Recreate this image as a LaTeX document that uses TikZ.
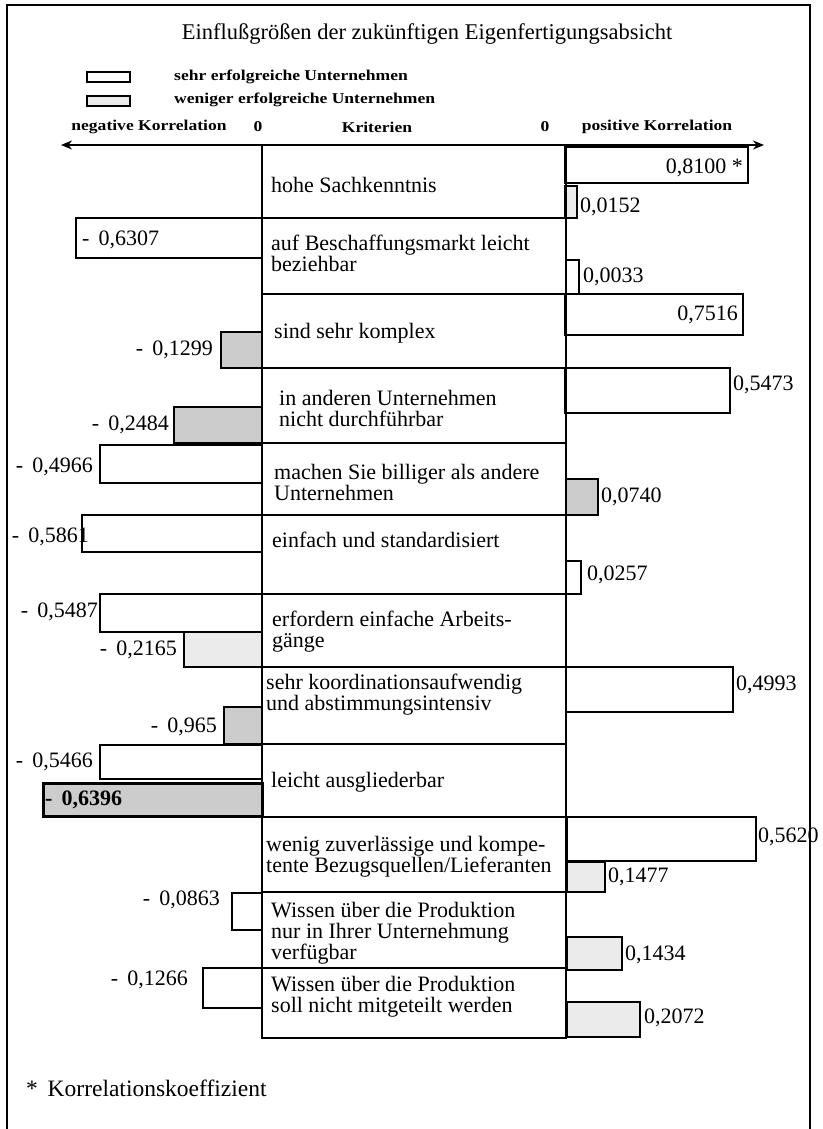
\documentclass[tikz,border=0pt]{standalone}
\usepackage{fontspec}
\setmainfont{Liberation Serif}
\newfontfamily\legfont{Liberation Serif}[FakeStretch=1.17]
\usetikzlibrary{arrows.meta}
\begin{document}
\begin{tikzpicture}[x=1pt,y=-1pt,
 frame/.style={line width=1.8pt},
 bar/.style={draw, line width=2.1pt, fill=white},
 barlt/.style={bar, fill=black!8},
 bardk/.style={bar, fill=black!20},
 crit/.style={draw, line width=1.8pt},
 txt/.style={inner sep=0pt, font=\fontsize{22}{21}\selectfont, align=left, anchor=west},
 numl/.style={inner sep=0pt, font=\fontsize{22}{21}\selectfont, anchor=west},
 numr/.style={inner sep=0pt, font=\fontsize{22}{21}\selectfont, anchor=east},
 leg/.style={inner sep=0pt, font=\legfont\bfseries\fontsize{15}{16}\selectfont},
]
\useasboundingbox (0,0) rectangle (822,1129);
\fill[white] (0,0) rectangle (822,1129);
\draw[frame] (7,1129) -- (7,5) -- (810,5) -- (810,1129);

% title
\node[inner sep=0pt, font=\fontsize{22.5}{24}\selectfont] (title) at (427,34) {Einflußgrößen der zukünftigen Eigenfertigungsabsicht};

% legend
\draw[bar, line width=2.4pt] (87,72) rectangle (130,82);
\draw[barlt, line width=2.4pt] (87,96) rectangle (130,106);
\node[leg, anchor=west] (leg1) at (174,77) {sehr erfolgreiche Unternehmen};
\node[leg, anchor=west] (leg2) at (174,100) {weniger erfolgreiche Unternehmen};

% axis labels
\node[leg] (neg) at (149,127) {negative Korrelation};
\node[leg] (zl) at (258,127) {0};
\node[leg] (krit) at (377,127) {Kriterien};
\node[leg] (zr) at (545,127) {0};
\node[leg] (pos) at (657,127) {positive Korrelation};

% axis arrow
\coordinate (al) at (61,145);
\coordinate (ar) at (764,145);
\draw[line width=2pt, {Stealth[length=11pt,width=9pt]}-{Stealth[length=11pt,width=9pt]}] (al) -- (ar);

% bars
% row 1
\draw[bar] (565,147) rectangle (748,183);
\node[numr] (v1a) at (743,168) {0,8100 *};
\draw[barlt] (565,186) rectangle (577,218);
\node[numl] (v1b) at (580,207) {0,0152};
% row 2
\draw[bar] (76,218) rectangle (262,258);
\node[numl] (v2a) at (82,240) {-\, 0,6307};
\draw[bar] (566,260) rectangle (579,294);
\node[numl] (v2b) at (583,277) {0,0033};
% row 3
\draw[bar] (565,294) rectangle (743,335);
\node[numr] (v3a) at (738,315) {0,7516};
\draw[bardk] (221,332) rectangle (262,368);
\node[numr] (v3b) at (213,350) {-\, 0,1299};
% row 4
\draw[bar] (565,368) rectangle (730,413);
\node[numl] (v4a) at (733,385) {0,5473};
\draw[bardk] (174,407) rectangle (262,443);
\node[numr] (v4b) at (169,425) {-\, 0,2484};
% row 5
\draw[bar] (100,445) rectangle (262,483);
\node[numr] (v5a) at (93,467) {-\, 0,4966};
\draw[bardk] (566,479) rectangle (598,515);
\node[numl] (v5b) at (601,497) {0,0740};
% row 6
\draw[bar] (82,515) rectangle (262,552);
\node[numr] (v6a) at (89,537) {-\, 0,5861};
\draw[bar] (566,561) rectangle (581,594);
\node[numl] (v6b) at (587,575) {0,0257};
% row 7
\draw[bar] (100,594) rectangle (262,632);
\node[numr] (v7a) at (98,612) {-\, 0,5487};
\draw[barlt] (184,632) rectangle (262,667);
\node[numr] (v7b) at (177,650) {-\, 0,2165};
% row 8
\draw[bar] (566,667) rectangle (733,712);
\node[numl] (v8a) at (736,685) {0,4993};
\draw[bardk] (224,707) rectangle (262,744);
\node[numr] (v8b) at (217,727) {-\, 0,965};
% row 9
\draw[bar] (100,745) rectangle (262,779);
\node[numr] (v9a) at (93,762) {-\, 0,5466};
\draw[bardk, line width=3pt] (43,783) rectangle (262,816);
\node[numl, font=\bfseries\fontsize{22}{21}\selectfont] (v9b) at (45,800) {-\, 0,6396};
% row 10
\draw[bar] (567,817) rectangle (756,861);
\node[numl] (v10a) at (758,837) {0,5620};
\draw[barlt] (567,862) rectangle (605,892);
\node[numl] (v10b) at (608,877) {0,1477};
% row 11
\draw[bar] (232,893) rectangle (262,930);
\node[numr] (v11a) at (220,900) {-\, 0,0863};
\draw[barlt] (567,937) rectangle (622,970);
\node[numl] (v11b) at (625,955) {0,1434};
% row 12
\draw[bar] (203,968) rectangle (262,1008);
\node[numr] (v12a) at (188,980) {-\, 0,1266};
\draw[barlt] (567,1002) rectangle (640,1037);
\node[numl] (v12b) at (644,1018) {0,2072};

% criteria column
\foreach \a/\b in {145/218,218/294,294/368,368/443,443/515,515/594,594/667,667/744,744/817,817/892,892/968,968/1038}
  \draw[crit] (262,\a) rectangle (566,\b);

% criteria texts
\node[txt] (t1) at (271,185) {hohe Sachkenntnis};
\node[txt] (t2) at (271,253) {auf Beschaffungsmarkt leicht\\beziehbar};
\node[txt] (t3) at (274,333) {sind sehr komplex};
\node[txt] (t4) at (279,408) {in anderen Unternehmen\\nicht durchführbar};
\node[txt] (t5) at (274,482) {machen Sie billiger als andere\\Unternehmen};
\node[txt] (t6) at (272,540) {einfach und standardisiert};
\node[txt] (t7) at (272,632) {erfordern einfache Arbeits-\\gänge};
\node[txt] (t8) at (266,695) {sehr koordinationsaufwendig\\und abstimmungsintensiv};
\node[txt] (t9) at (271,782) {leicht ausgliederbar};
\node[txt] (t10) at (266,857) {wenig zuverlässige und kompe-\\tente Bezugsquellen/Lieferanten};
\node[txt] (t11) at (271,933) {Wissen über die Produktion\\nur in Ihrer Unternehmung\\verfügbar};
\node[txt] (t12) at (271,997) {Wissen über die Produktion\\soll nicht mitgeteilt werden};

% footnote
\node[inner sep=0pt, anchor=west, font=\fontsize{23.5}{24}\selectfont] (fn) at (26,1088) {*\, Korrelationskoeffizient};
\end{tikzpicture}
\end{document}
